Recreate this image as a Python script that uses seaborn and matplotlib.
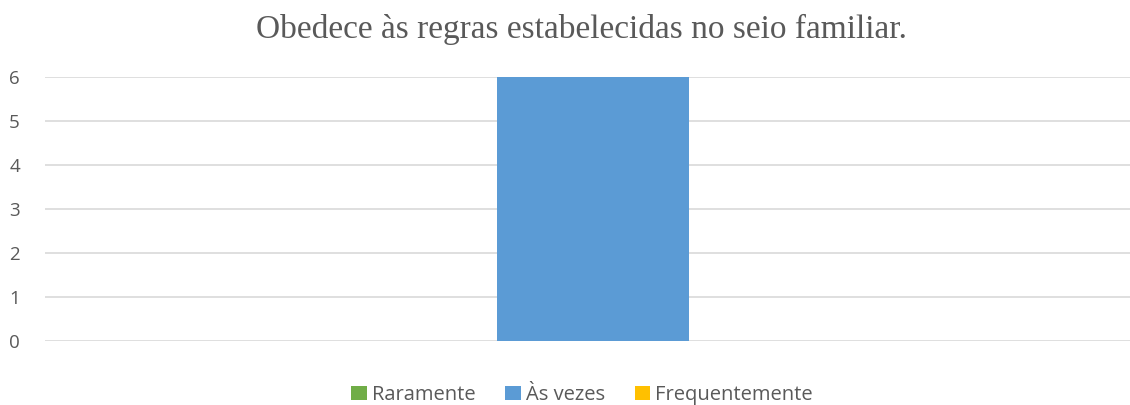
import matplotlib
matplotlib.use("Agg")
import matplotlib.pyplot as plt
import seaborn as sns
import pandas as pd

# Chart data
categories = [""]
series = ["Raramente", "Às vezes", "Frequentemente"]
values = [0, 6, 0]
colors = ["#70AD47", "#5B9BD5", "#FFC000"]
title = "Obedece às regras estabelecidas no seio familiar."

df = pd.DataFrame({
    "categoria": categories * len(series),
    "serie": series,
    "valor": values,
})

sns.set_theme(style="white")
plt.rcParams["font.family"] = ["Open Sans", "DejaVu Sans"]

fig = plt.figure(figsize=(11.3, 4.05), dpi=100)
ax = fig.add_axes([45 / 1130, 1 - 341 / 405, 1 - 45 / 1130, (341 - 77) / 405])

sns.barplot(data=df, x="categoria", y="valor", hue="serie", hue_order=series,
            palette=colors, width=0.53, ax=ax, saturation=1, legend=True,
            edgecolor="none", linewidth=0, zorder=3)

ax.set_ylim(0, 6)
ax.set_xlim(-0.505, 0.495)
ax.set_yticks(range(0, 7))
ax.yaxis.grid(True, color="#D9D9D9", linewidth=1.2, zorder=0)
ax.set_axisbelow(True)
for s in ax.spines.values():
    s.set_visible(False)
ax.set_xticks([])
ax.set_xlabel("")
ax.set_ylabel("")
ax.tick_params(axis="y", length=0, pad=18, labelsize=13.5, labelcolor="#595959")

leg = ax.legend(loc="center", bbox_to_anchor=(0.5 - 0.005, -0.205), ncol=3,
                frameon=False, fontsize=14.5, handlelength=0.75, handleheight=0.75,
                handletextpad=0.25, columnspacing=1.5, borderaxespad=0)
for t in leg.get_texts():
    t.set_color("#595959")

fig.text(582 / 1130, 1 - 29 / 405, title, ha="center", va="center",
         fontsize=24, color="#595959", family=["Liberation Serif", "DejaVu Serif"])

fig.savefig("out.png", dpi=100)
